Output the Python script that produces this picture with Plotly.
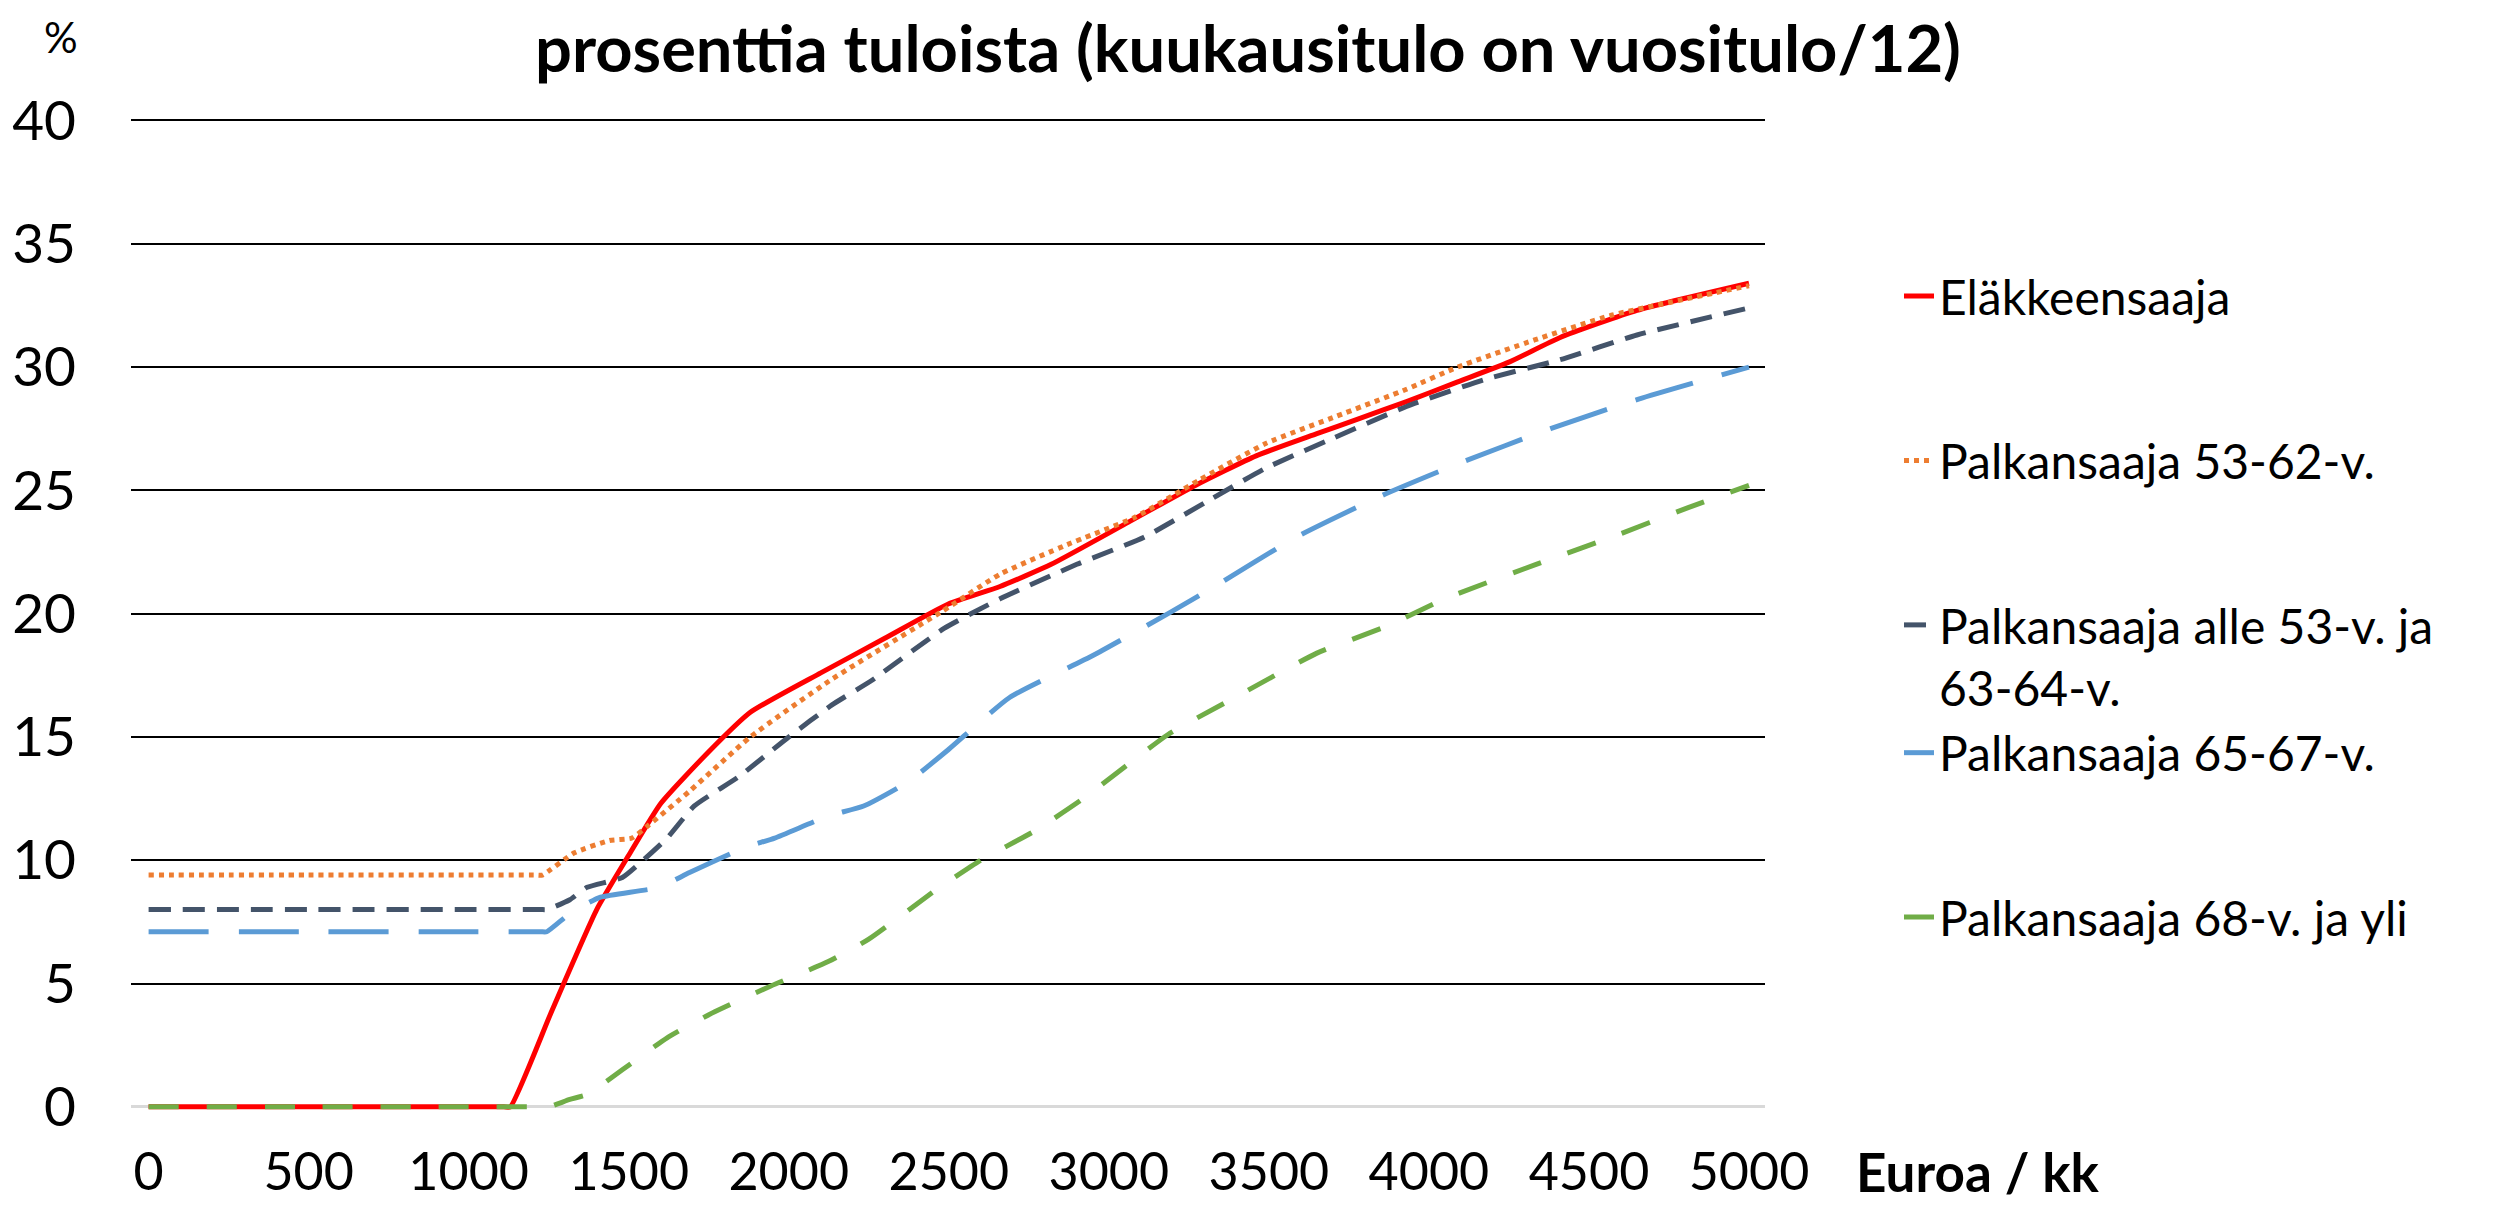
import plotly.graph_objects as go

# ---- data ----
x_ticks = [0, 500, 1000, 1500, 2000, 2500, 3000, 3500, 4000, 4500, 5000]
y_ticks = [0, 5, 10, 15, 20, 25, 30, 35, 40]

names = ["Eläkkeensaaja", "Palkansaaja 53-62-v.", "Palkansaaja alle 53-v. ja<br>63-64-v.",
         "Palkansaaja 65-67-v.", "Palkansaaja 68-v. ja yli"]

ela_x = [0, 500, 1000, 1110, 1130, 1260, 1400, 1500, 1600, 1750, 1880, 2100, 2300, 2500, 2660, 2820,
         3060, 3270, 3460, 3650, 3780, 3930, 4090, 4250, 4410, 4650, 5000]
ela_y = [0, 0, 0, 0, 0, 3.9, 8.0, 10.2, 12.3, 14.4, 16.0, 17.6, 19.0, 20.4, 21.1, 22.0,
         23.7, 25.2, 26.4, 27.3, 27.9, 28.6, 29.4, 30.2, 31.2, 32.3, 33.4]

p5362_x = [0, 500, 1000, 1210, 1230, 1330, 1440, 1510, 1560, 1690, 1880, 2130, 2480, 2660, 2870,
           3080, 3280, 3490, 3710, 3930, 4090, 4330, 4570, 4780, 5000]
p5362_y = [9.4, 9.4, 9.4, 9.4, 9.4, 10.3, 10.8, 10.9, 11.4, 12.8, 15.0, 17.3, 20.1, 21.6, 22.8,
           23.9, 25.4, 26.9, 28.0, 29.1, 30.0, 31.1, 32.1, 32.7, 33.3]

palle_x = [0, 500, 1000, 1225, 1244, 1316, 1370, 1480, 1545, 1620, 1705, 1845, 2000, 2135, 2260,
           2485, 2660, 2900, 3110, 3300, 3490, 3680, 3930, 4175, 4410, 4650, 5000]
palle_y = [8.0, 8.0, 8.0, 8.0, 8.0, 8.4, 8.9, 9.3, 10.0, 10.9, 12.2, 13.4, 15.0, 16.3, 17.3,
           19.4, 20.6, 22.0, 23.1, 24.5, 25.9, 27.0, 28.4, 29.5, 30.3, 31.3, 32.4]

p6567_x = [0, 500, 1000, 1225, 1244, 1322, 1412, 1594, 1690, 1860, 1956, 2125, 2234, 2375, 2500,
           2690, 2950, 3185, 3330, 3585, 3855, 4095, 4380, 4655, 5000]
p6567_y = [7.1, 7.1, 7.1, 7.1, 7.1, 7.9, 8.5, 8.9, 9.5, 10.5, 10.9, 11.8, 12.2, 13.2, 14.5,
           16.6, 18.3, 20.0, 21.1, 23.1, 24.8, 26.1, 27.5, 28.7, 30.0]

p68_x = [0, 500, 1000, 1230, 1250, 1316, 1370, 1480, 1620, 1760, 1944, 2125, 2250, 2460, 2600,
         2770, 2920, 3185, 3380, 3650, 3870, 4050, 4335, 4570, 4810, 5000]
p68_y = [0, 0, 0, 0, 0, 0.3, 0.5, 1.5, 2.8, 3.8, 4.9, 5.9, 6.8, 8.8, 10.0,
         11.2, 12.5, 15.1, 16.5, 18.4, 19.5, 20.6, 22.0, 23.1, 24.3, 25.2]

FONT = "Lato, 'Open Sans', sans-serif"

series = [
    (ela_x, ela_y, names[0], "#FF0000", "solid", "g1"),
    (p5362_x, p5362_y, names[1], "#ED7D31", "dot", "g2"),
    (palle_x, palle_y, names[2], "#44546A", "22px,12px", "g3"),
    (p6567_x, p6567_y, names[3], "#5B9BD5", "60px,30px", "g3"),
    (p68_x, p68_y, names[4], "#70AD47", "30px,28px", "g4"),
]

fig = go.Figure()
for xs, ys, nm, col, dash, grp in series:
    fig.add_trace(go.Scatter(
        x=xs, y=ys, name=nm, mode="lines", legendgroup=grp,
        line=dict(color=col, width=5, dash=dash, shape="spline", smoothing=0.5),
    ))

# page is offset by the browser's 8px body margin
OFF = 8
W, H = 2509 - OFF, 1206 - OFF
PX_PER_UNIT = 24.675
Y0, Y1 = -0.25, 40.1
top_L = (120 - OFF) - (Y1 - 40) * PX_PER_UNIT
bot_L = (1107 - OFF) + (0 - Y0) * PX_PER_UNIT
plot_h = bot_L - top_L
X_LEFT, X_RIGHT = 131 - OFF, 1765 - OFF
plot_w = X_RIGHT - X_LEFT


def py(page_px):
    """page pixel y -> paper y"""
    return (bot_L - (page_px - OFF)) / plot_h


def pxx(page_px):
    return ((page_px - OFF) - X_LEFT) / plot_w


fig.update_layout(
    width=W, height=H,
    paper_bgcolor="white", plot_bgcolor="white",
    margin=dict(l=X_LEFT, r=W - X_RIGHT, t=top_L, b=H - bot_L, autoexpand=False),
    font=dict(family=FONT, size=44, color="#000000"),
    showlegend=True,
    legend=dict(
        x=pxx(1899), y=py(258), xanchor="left", yanchor="top",
        font=dict(family=FONT, size=48, color="#000000"),
        valign="top", tracegroupgap=99, itemwidth=30,
        bgcolor="rgba(0,0,0,0)",
    ),
    xaxis=dict(
        range=[-55, 5050], tickvals=x_ticks, ticktext=[str(v) for v in x_ticks],
        showgrid=False, zeroline=False, showline=False, automargin=False,
        ticks="", ticklabelstandoff=24,
        tickfont=dict(family=FONT, size=52),
    ),
    yaxis=dict(
        range=[Y0, Y1], tickvals=y_ticks, ticktext=[str(v) for v in y_ticks],
        showgrid=True, gridcolor="#000000", gridwidth=2, automargin=False,
        zeroline=True, zerolinecolor="#D9D9D9", zerolinewidth=3,
        showline=False, ticks="", ticklabelstandoff=54,
        tickfont=dict(family=FONT, size=55),
    ),
    annotations=[
        dict(text="<b>prosenttia tuloista (kuukausitulo on vuositulo/12)</b>",
             xref="paper", yref="paper", x=pxx(1248), y=py(46),
             xanchor="center", yanchor="middle", showarrow=False,
             font=dict(family=FONT, size=65)),
        dict(text="%", xref="paper", yref="paper", x=pxx(61), y=py(36),
             xanchor="center", yanchor="middle", showarrow=False,
             font=dict(family=FONT, size=42)),
        dict(text="<b>Euroa / kk</b>", xref="paper", yref="paper",
             x=pxx(1854), y=py(1172),
             xanchor="left", yanchor="middle", showarrow=False,
             font=dict(family=FONT, size=53)),
    ],
)

fig.write_html("out.html")
